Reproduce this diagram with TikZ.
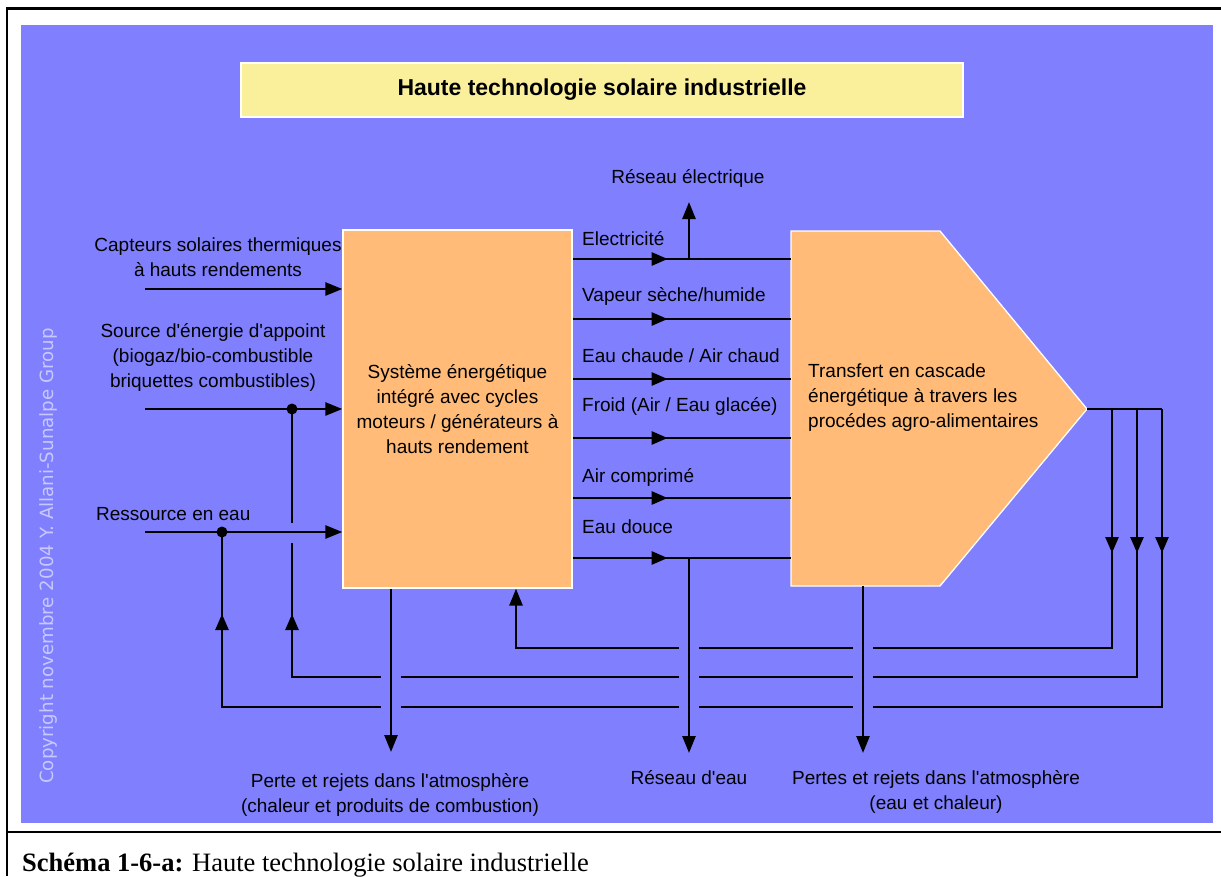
\documentclass[tikz,border=0pt]{standalone}
\usepackage{fontspec}
\setmainfont{Liberation Sans}[Ligatures=TeXOff]
\newfontfamily\capfont{Liberation Serif}
\newfontfamily\copyfont{DejaVu Sans}
\usetikzlibrary{arrows.meta,decorations.markings,calc}
\definecolor{bgblue}{RGB}{128,128,255}
\definecolor{boxor}{RGB}{255,187,119}
\definecolor{titley}{RGB}{250,240,155}
\definecolor{copyc}{RGB}{200,200,255}
\begin{document}
\begin{tikzpicture}[x=1pt,y=-1pt,
  lbl/.style={font=\fontsize{19}{25}\selectfont, inner sep=0pt, text=black},
  flow/.style={line width=2.6pt},
  tip/.style={-{Triangle[length=17pt,width=13pt]}},
  onearrow/.style={postaction={decorate},decoration={markings,
     mark=at position #1 with {\arrow{Triangle[length=16pt,width=13pt]}}}},
  twoarrows/.style 2 args={postaction={decorate},decoration={markings,
     mark=at position #1 with {\arrow{Triangle[length=16pt,width=13pt]}},
     mark=at position #2 with {\arrow{Triangle[length=16pt,width=13pt]}}}},
  eraser/.style={fill=bgblue},
]
\useasboundingbox (0,0) rectangle (1221,876);
% frame
\fill[bgblue] (21,25) rectangle (1213,823);
\draw[line width=2.7pt] (7,876) -- (7,8.5) -- (1221,8.5);
\draw[line width=2.7pt] (7,832) -- (1221,832);

% title
\node[draw=white, line width=1.3pt, fill=titley, minimum width=722pt, minimum height=54pt,
      font=\bfseries\fontsize{23}{23}\selectfont, inner sep=0pt] (title) at (602,90)
      {Haute technologie solaire industrielle};

% system box
\node[draw=white, line width=1.3pt, fill=boxor, minimum width=229pt, minimum height=358pt,
      lbl, align=center] (sys) at (457.5,409)
      {Système énergétique\\intégré avec cycles\\moteurs / générateurs à\\hauts rendement};

% cascade pentagon
\coordinate (pnw) at (791,231);
\coordinate (pne) at (940,231);
\coordinate (tipc) at (1087,409);
\coordinate (pse) at (940,586);
\coordinate (psw) at (791,586);
\filldraw[draw=white, line width=1.3pt, fill=boxor] (pnw) -- (pne) -- (tipc) -- (pse) -- (psw) -- cycle;
\node[lbl, anchor=west, align=left] (casc) at (808,398)
      {Transfert en cascade\\énergétique à travers les\\procédes agro-alimentaires};

% output rows
\foreach \yy/\nm in {259/o1,319/o2,379/o3,438/o4,498/o5,558/o6}{
  \coordinate (\nm) at (0,\yy);
  \draw[flow, onearrow=95pt] (sys.east |- \nm) -- (pnw |- \nm);
}
\node[lbl, anchor=base west] (l1) at (582,245) {Electricité};
\node[lbl, anchor=base west] (l2) at (582,301) {Vapeur sèche/humide};
\node[lbl, anchor=base west] (l3) at (582,362) {Eau chaude / Air chaud};
\node[lbl, anchor=base west] (l4) at (582,411) {Froid (Air / Eau glacée)};
\node[lbl, anchor=base west] (l5) at (582,482) {Air comprimé};
\node[lbl, anchor=base west] (l6) at (582,533) {Eau douce};

% electrical network
\coordinate (elj) at (689,259);
\coordinate (elt) at (689,202);
\draw[flow, tip] (elj) -- (elt);
\node[lbl, anchor=base] (reseauel) at (688,183) {Réseau électrique};

% feedback loops
\coordinate (b1) at (1112,409);
\coordinate (b2) at (1137,409);
\coordinate (b3) at (1162,409);
\coordinate (f1) at (516,648);
\coordinate (f2) at (292,677);
\coordinate (f3) at (222,707);
\coordinate (j1) at (292,409);
\coordinate (j2) at (222,532);
\draw[flow] (tipc) -- (b3);
\draw[flow, tip, onearrow=144pt] (b1) |- (f1) -- (f1 |- sys.south);
\draw[flow, twoarrows={144pt}{1176pt}] (b2) |- (f2) -- (j1);
\draw[flow, twoarrows={144pt}{1331pt}] (b3) |- (f3) -- (j2);

% gaps where lines cross
\fill[eraser] (381,638) rectangle (401,717);
\fill[eraser] (679,638) rectangle (699,717);
\fill[eraser] (853,638) rectangle (873,717);
\fill[eraser] (286,523) rectangle (298,543);

% outgoing verticals
\coordinate (d1) at (391,752);
\coordinate (d2) at (689,753);
\coordinate (d3) at (863,753);
\draw[flow, tip] (sys.south -| d1) -- (d1);
\draw[flow, tip] (o6 -| d2) -- (d2);
\draw[flow, tip] (psw -| d3) -- (d3);
\node[lbl, align=center] (perte1) at (390,795)
      {Perte et rejets dans l'atmosphère\\(chaleur et produits de combustion)};
\node[lbl, anchor=base] (reseaueau) at (689,784) {Réseau d'eau};
\node[lbl, align=center] (perte2) at (936,791.5)
      {Pertes et rejets dans l'atmosphère\\(eau et chaleur)};

% inputs
\coordinate (in1) at (145,289);
\coordinate (in2) at (145,409);
\coordinate (in3) at (145,532);
\draw[flow, tip] (in1) -- (in1 -| sys.west);
\draw[flow, tip] (in2) -- (in2 -| sys.west);
\draw[flow, tip] (in3) -- (in3 -| sys.west);
\fill (j1) circle (5.5);
\fill (j2) circle (5.5);
\node[lbl, align=center] (cap) at (218,257.5)
      {Capteurs solaires thermiques\\à hauts rendements};
\node[lbl, align=center] (src) at (213,357.5)
      {Source d'énergie d'appoint\\(biogaz/bio-combustible\\briquettes combustibles)};
\node[lbl, anchor=base west] (res) at (96,520) {Ressource en eau};

% copyright
\node[rotate=90, text=copyc, inner sep=0pt, font=\copyfont\fontsize{18.2}{18.2}\selectfont] (copy) at (48,556)
      {Copyright novembre 2004 Y. Allani-Sunalpe Group};

% caption
\node[anchor=base west, inner sep=0pt, font=\capfont\fontsize{26.5}{30}\selectfont] (caption) at (22,871)
      {\textbf{Schéma 1-6-a:} Haute technologie solaire industrielle};
\end{tikzpicture}
\end{document}
